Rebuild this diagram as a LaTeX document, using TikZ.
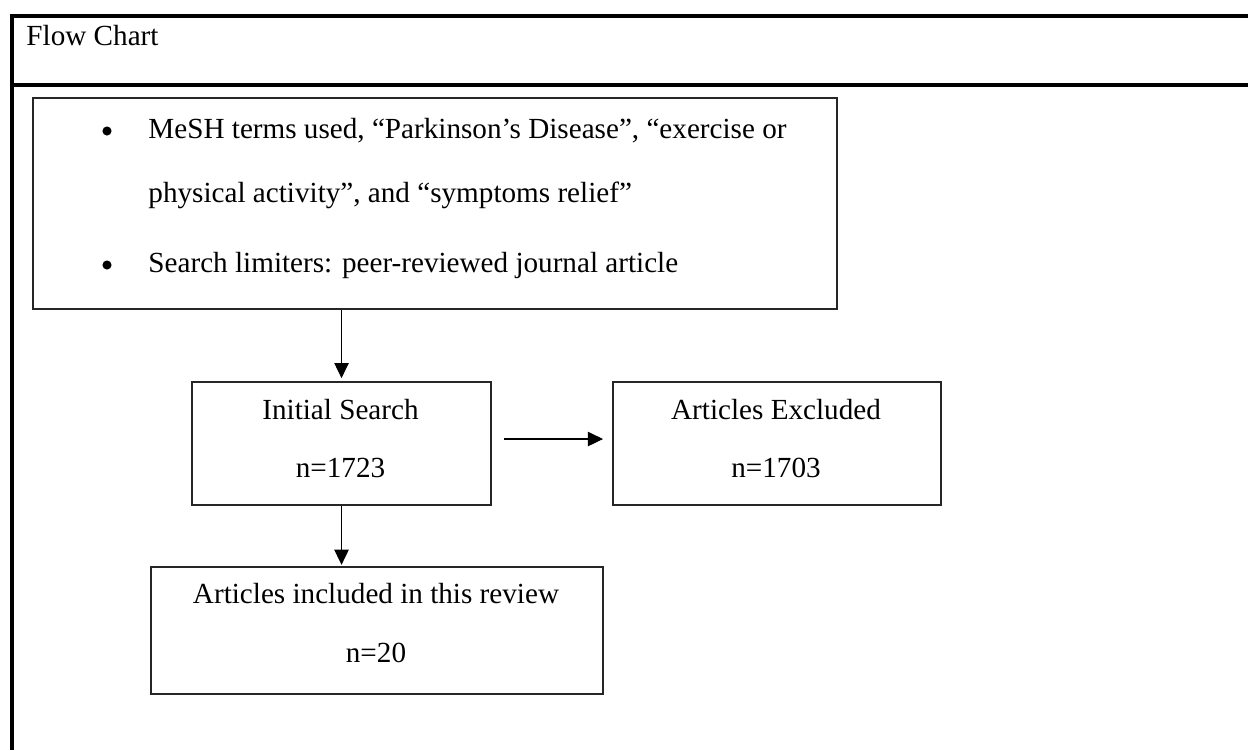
\documentclass[tikz,border=0pt]{standalone}
\usepackage{fontspec}
\setmainfont{Liberation Serif}
\usetikzlibrary{arrows.meta}
\begin{document}
\begin{tikzpicture}[x=0.41667pt,y=-0.41667pt,
  tableline/.style={line width=1.3pt,black},
  boxnode/.style={draw=black!85,line width=0.85pt,inner sep=0pt,anchor=north west},
  txt/.style={font=\fontsize{12.15}{14}\selectfont,inner sep=0pt},
  bulletdot/.style={circle,fill=black,inner sep=0pt,minimum size=3.8pt},
  arr/.style={line width=0.45pt,-{Triangle[length=6.3pt,width=6pt]}}]
\useasboundingbox (0,0) rectangle (1248,750);
% table frame
\draw[tableline] (12,750) -- (12,16) -- (1248,16);
\draw[tableline] (12,85) -- (1248,85);
\node[txt,anchor=base west] (title) at (26,45) {Flow Chart};
% boxes
\node[boxnode,minimum width=804*0.41667pt,minimum height=211*0.41667pt] (top) at (32,97) {};
\node[boxnode,minimum width=299*0.41667pt,minimum height=123*0.41667pt] (init) at (191,381) {};
\node[boxnode,minimum width=328*0.41667pt,minimum height=123*0.41667pt] (excl) at (612,381) {};
\node[boxnode,minimum width=452*0.41667pt,minimum height=127*0.41667pt] (incl) at (150,566) {};
% top box text
\node[bulletdot] (b1) at (107,131) {};
\node[txt,anchor=base west] (t1) at (148,138) {MeSH terms used, “Parkinson’s Disease”, “exercise or};
\node[txt,anchor=base west] (t2) at (148,202) {physical activity”, and “symptoms relief”};
\node[bulletdot] (b2) at (107,265) {};
\node[txt,anchor=base west] (t3) at (148,272) {Search limiters: peer-reviewed journal article};
% init text
\node[txt,anchor=base] (i1) at (340.5,419) {Initial Search};
\node[txt,anchor=base] (i2) at (340.5,477) {n=1723};
% excl text
\node[txt,anchor=base] (e1) at (776,419) {Articles Excluded};
\node[txt,anchor=base] (e2) at (776,477) {n=1703};
% incl text
\node[txt,anchor=base] (c1) at (376,603) {Articles included in this review};
\node[txt,anchor=base] (c2) at (376,662) {n=20};
% arrows
\draw[arr,shorten >=1.2pt] (init.north |- top.south) -- (init.north);
\draw[arr,shorten >=0.5pt] (init.south) -- (init.south |- incl.north);
\draw[arr] ([shift={(12,-4.5)}]init.east) -- ([shift={(-9,-4.5)}]excl.west);
\end{tikzpicture}
\end{document}
